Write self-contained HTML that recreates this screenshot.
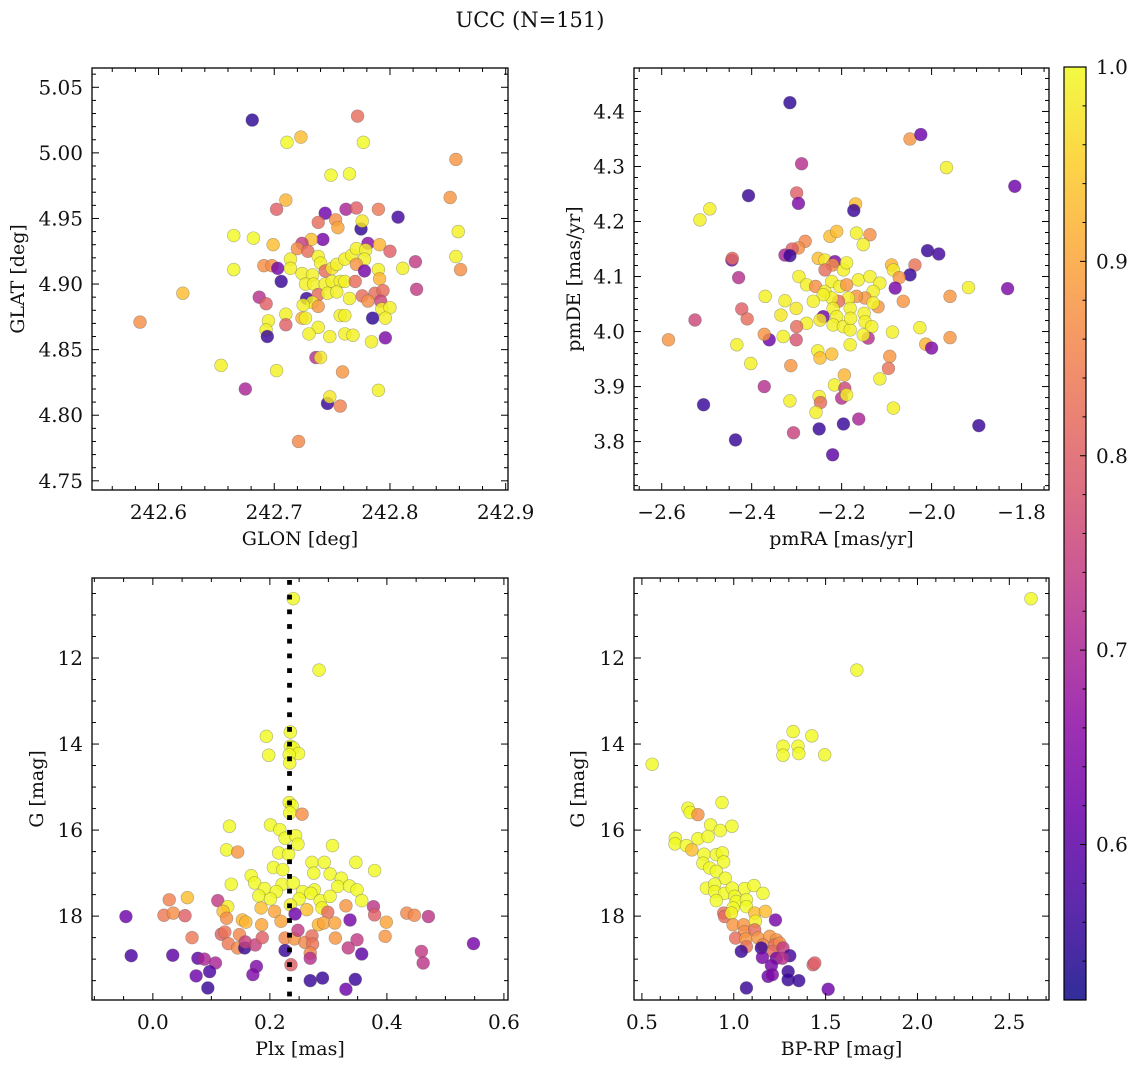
<!DOCTYPE html>
<html><head><meta charset="utf-8"><style>
html,body{margin:0;padding:0;background:#fff;}
svg{display:block;}
text{font-family:"DejaVu Serif","Liberation Serif",serif;fill:#111;}
</style></head><body>
<svg id="fig" width="1136" height="1067" viewBox="0 0 1136 1067" xmlns="http://www.w3.org/2000/svg">
<text x="530" y="27" font-size="21" text-anchor="middle">UCC (N=151)</text>
</svg>
<script>
// ---- Panel 1: GLON vs GLAT ----
const p1Glon=[242.681,242.772,242.711,242.723,242.777,242.857,242.749,242.765,242.852,242.710,242.702,242.744,242.762,242.771,242.790,242.807,242.738,242.753,242.755,242.775,242.776,242.665,242.682,242.699,242.742,242.732,242.724,242.720,242.729,242.781,242.791,242.800,242.822,242.859,242.857,242.861,242.665,242.691,242.698,242.703,242.706,242.714,242.714,242.724,242.733,242.738,242.740,242.744,242.750,242.754,242.761,242.767,242.771,242.779,242.778,242.771,242.778,242.790,242.791,242.811,242.823,242.687,242.693,242.728,242.727,242.734,242.738,242.744,242.750,242.757,242.761,242.770,242.746,242.754,242.765,242.776,242.787,242.794,242.792,242.781,242.793,242.800,242.733,242.738,242.725,242.724,242.727,242.710,242.695,242.693,242.694,242.710,242.738,242.730,242.748,242.757,242.761,242.761,242.768,242.785,242.796,242.784,242.796,242.736,242.740,242.654,242.702,242.759,242.675,242.790,242.746,242.748,242.757,242.721,242.584,242.621];
const p1Glat=[5.025,5.028,5.008,5.012,5.008,4.995,4.983,4.984,4.966,4.964,4.957,4.954,4.957,4.958,4.957,4.951,4.947,4.949,4.943,4.942,4.948,4.937,4.935,4.930,4.934,4.934,4.931,4.927,4.925,4.931,4.930,4.925,4.917,4.940,4.921,4.911,4.911,4.914,4.914,4.912,4.902,4.919,4.912,4.908,4.907,4.921,4.916,4.910,4.912,4.915,4.919,4.922,4.927,4.926,4.919,4.915,4.910,4.911,4.904,4.912,4.896,4.890,4.885,4.889,4.900,4.900,4.892,4.900,4.902,4.902,4.902,4.902,4.893,4.894,4.889,4.891,4.893,4.895,4.887,4.887,4.881,4.882,4.886,4.883,4.884,4.874,4.874,4.877,4.872,4.865,4.860,4.869,4.867,4.862,4.860,4.876,4.876,4.862,4.861,4.874,4.874,4.856,4.859,4.844,4.844,4.838,4.834,4.833,4.820,4.819,4.809,4.814,4.807,4.780,4.871,4.893];
const p1Prob=[.55,.82,1,.93,1,.88,1,1,.88,.92,.80,.62,.70,.80,.84,.57,.82,.87,.90,.55,.98,1,1,.93,.63,.93,.74,.87,.82,.66,.92,.80,.74,.99,.99,.87,1,.87,.87,.63,.56,.99,.99,.99,.99,.99,.99,.82,.98,.99,.99,.99,.99,.99,.99,.88,.63,.99,.92,.99,.74,.72,.80,.56,.99,.99,.82,.99,.99,.99,.99,.82,.99,.99,.99,.82,.82,.82,.76,.87,.99,.99,.99,.88,.99,.92,.99,.99,.99,.99,.56,.80,.99,.99,.99,.99,.99,.99,.99,.55,.99,.99,.64,.72,.98,.99,.99,.88,.70,.99,.56,.98,.85,.86,.87,.93];
const p1XTicks=[242.6,242.7,242.8,242.9];
const p1YTicks=[4.75,4.80,4.85,4.90,4.95,5.00,5.05];

// ---- Panel 2: pmRA vs pmDE ----
const p2PmRA=[-2.315,-2.048,-2.024,-2.289,-1.967,-1.815,-2.407,-2.300,-2.296,-2.169,-2.173,-2.515,-2.493,-2.226,-2.211,-2.167,-2.137,-2.152,-2.281,-2.296,-2.310,-2.326,-2.315,-2.444,-2.443,-2.429,-2.252,-2.237,-2.215,-2.220,-2.237,-2.196,-2.189,-2.009,-1.984,-2.037,-2.048,-2.089,-2.085,-2.072,-2.081,-1.918,-1.831,-1.959,-2.063,-2.295,-2.278,-2.258,-2.237,-2.222,-2.204,-2.189,-2.163,-2.137,-2.115,-2.130,-2.148,-2.119,-2.167,-2.185,-2.181,-2.207,-2.222,-2.241,-2.263,-2.219,-2.211,-2.241,-2.248,-2.219,-2.196,-2.181,-2.180,-2.150,-2.148,-2.133,-2.141,-2.152,-2.130,-2.370,-2.326,-2.301,-2.335,-2.278,-2.300,-2.301,-2.361,-2.372,-2.330,-2.422,-2.410,-2.526,-2.585,-2.433,-2.402,-2.313,-2.372,-2.507,-2.436,-2.315,-2.307,-2.253,-2.248,-2.222,-2.181,-2.087,-2.026,-2.013,-2.000,-1.959,-2.093,-2.096,-2.115,-2.194,-2.216,-2.193,-2.200,-2.189,-2.250,-2.247,-2.257,-2.085,-2.162,-2.250,-2.196,-2.220,-1.895];
const p2PmDE=[4.416,4.350,4.358,4.305,4.298,4.264,4.247,4.252,4.233,4.232,4.220,4.203,4.223,4.173,4.182,4.179,4.176,4.158,4.164,4.152,4.150,4.139,4.138,4.130,4.133,4.098,4.133,4.130,4.127,4.121,4.112,4.112,4.125,4.147,4.141,4.121,4.103,4.121,4.112,4.098,4.079,4.080,4.078,4.064,4.055,4.100,4.085,4.082,4.073,4.091,4.082,4.085,4.094,4.100,4.088,4.073,4.061,4.045,4.064,4.061,4.042,4.055,4.061,4.067,4.055,4.042,4.027,4.027,4.021,4.012,4.009,4.003,4.024,4.033,4.018,4.009,3.988,3.994,4.052,4.064,4.056,4.042,4.030,4.015,4.009,3.985,3.985,3.995,3.991,4.041,4.023,4.021,3.985,3.976,3.942,3.938,3.900,3.867,3.803,3.874,3.816,3.965,3.952,3.959,3.976,3.999,4.007,3.977,3.970,3.989,3.955,3.933,3.914,3.921,3.903,3.897,3.879,3.885,3.882,3.871,3.853,3.861,3.841,3.823,3.832,3.776,3.829];
const p2Prob=[.55,.88,.62,.72,.99,.62,.56,.80,.64,.93,.56,.99,.99,.93,.93,.99,.87,.99,.86,.87,.80,.70,.56,.62,.82,.72,.93,.98,.64,.87,.82,.99,.99,.56,.57,.83,.56,.92,.98,.88,.63,.99,.64,.88,.88,.99,.99,.87,.99,.99,.99,.88,.99,.99,.99,.99,.88,.88,.88,.99,.99,.82,.99,.99,.99,.99,.99,.62,.98,.99,.99,.99,.99,.99,.99,.99,.72,.99,.99,.99,.99,.98,.98,.99,.82,.78,.62,.88,.99,.80,.82,.76,.88,.99,.99,.88,.72,.56,.56,.99,.75,.99,.93,.93,.99,.99,.99,.92,.64,.88,.88,.83,.99,.92,.99,.76,.72,.99,.99,.82,.99,.99,.70,.56,.56,.60,.56];
const p2XTicks=[-2.6,-2.4,-2.2,-2.0,-1.8];
const p2YTicks=[3.8,3.9,4.0,4.1,4.2,4.3,4.4];

// ---- Panel 3: Plx vs G ----
const p3Plx=[0.240,0.284,0.235,0.194,0.198,0.235,0.240,0.249,0.233,0.234,0.233,0.238,0.234,0.255,0.131,0.201,0.217,0.226,0.244,0.248,0.126,0.145,0.307,0.215,0.232,0.272,0.293,0.347,0.379,0.206,0.222,0.275,0.303,0.168,0.134,0.174,0.221,0.240,0.322,0.316,0.336,0.349,0.191,0.211,0.256,0.276,0.270,0.181,0.201,0.250,0.286,0.303,0.357,0.059,0.028,0.111,0.128,0.120,0.185,0.208,0.235,0.263,0.289,0.299,0.330,0.377,-0.046,0.019,0.035,0.055,0.126,0.153,0.159,0.186,0.219,0.243,0.283,0.292,0.311,0.337,0.379,0.399,0.434,0.447,0.471,0.067,0.117,0.123,0.148,0.129,0.145,0.157,0.158,0.175,0.187,0.226,0.242,0.248,0.226,0.260,0.272,0.273,0.269,0.269,0.312,0.349,0.334,0.357,0.397,0.459,0.462,0.548,-0.037,0.034,0.077,0.088,0.107,0.074,0.097,0.094,0.177,0.171,0.236,0.269,0.290,0.330,0.346];
const p3G=[10.62,12.28,13.72,13.82,14.26,14.05,14.09,14.22,14.25,14.44,15.36,15.43,15.60,15.63,15.91,15.88,15.99,16.19,16.13,16.33,16.46,16.51,16.36,16.53,16.56,16.75,16.75,16.75,16.94,16.87,16.92,17.00,17.02,17.06,17.26,17.23,17.26,17.23,17.12,17.31,17.30,17.39,17.36,17.43,17.43,17.39,17.47,17.53,17.60,17.60,17.64,17.54,17.64,17.57,17.62,17.64,17.78,17.89,17.81,17.89,17.74,17.85,17.81,17.91,17.76,17.78,18.01,17.98,17.93,17.99,18.05,18.09,18.14,18.20,18.12,17.95,18.20,18.16,18.16,18.09,17.97,18.14,17.93,17.98,18.01,18.50,18.42,18.37,18.43,18.64,18.74,18.74,18.60,18.67,18.50,18.51,18.53,18.33,18.80,18.61,18.46,18.65,18.86,18.98,18.51,18.55,18.74,18.88,18.47,18.82,19.09,18.64,18.92,18.91,18.98,19.00,19.09,19.39,19.29,19.67,19.17,19.36,19.13,19.50,19.44,19.70,19.47];
const p3Prob=[1,1,1,1,1,1,1,1,1,1,1,1,1,.87,1,1,1,1,1,1,1,.88,1,1,1,1,1,1,1,1,1,1,1,1,1,1,1,1,1,1,1,1,1,1,1,1,1,1,1,1,1,1,1,.93,.85,.74,.99,.93,.93,.90,.99,.93,.99,.82,.88,.73,.62,.84,.87,.80,.87,.92,.92,.90,.90,.62,.92,.90,.90,.63,.80,.90,.86,.86,.73,.84,.80,.83,.86,.84,.86,.56,.75,.75,.80,.86,.88,.74,.56,.86,.82,.83,.86,.72,.88,.74,.74,.60,.88,.74,.73,.63,.58,.60,.60,.70,.70,.62,.58,.56,.64,.64,.80,.56,.56,.62,.56];
const p3XTicks=[0.0,0.2,0.4,0.6];
const p3YTicks=[12,14,16,18];
const p3PlxRef=[0.2336];

// ---- Panel 4: BP-RP vs G ----
const p4Color=[2.618,1.670,1.323,1.425,1.268,1.268,1.350,1.354,1.495,0.556,0.936,0.751,0.763,0.805,0.874,0.927,0.990,0.682,0.680,0.742,0.772,0.805,0.860,0.838,0.832,0.905,0.938,0.945,0.869,0.905,0.954,0.851,0.896,0.896,0.950,0.992,1.059,1.110,1.159,0.905,1.005,1.014,1.069,1.069,0.996,0.945,0.950,0.987,1.114,1.172,0.996,1.054,1.118,1.059,1.114,1.227,1.010,1.065,1.132,1.196,1.232,1.069,1.159,1.223,1.250,1.041,1.150,1.214,1.268,1.156,1.232,1.305,1.265,1.432,1.441,1.205,1.187,1.210,1.296,1.296,1.354,1.069,1.514];
const p4G=[10.62,12.28,13.71,13.81,14.05,14.26,14.05,14.22,14.25,14.47,15.36,15.49,15.59,15.64,15.88,16.01,15.91,16.19,16.32,16.36,16.46,16.20,16.15,16.56,16.77,16.57,16.53,16.74,16.88,16.96,17.12,17.35,17.26,17.43,17.47,17.35,17.36,17.29,17.47,17.64,17.54,17.66,17.62,17.78,17.81,17.93,18.01,17.93,17.93,17.89,18.20,18.20,18.12,18.36,18.32,18.09,18.51,18.53,18.51,18.47,18.55,18.71,18.67,18.67,18.63,18.82,18.74,18.82,18.74,18.96,18.98,18.92,18.98,19.13,19.09,19.15,19.40,19.36,19.29,19.48,19.50,19.67,19.70];
const p4Prob=[1,1,1,1,1,1,1,1,1,1,1,1,1,.87,1,1,1,1,1,1,.93,1,1,1,1,1,1,1,1,1,1,1,1,1,1,1,1,1,1,1,1,1,1,1,1,.82,.82,.99,.93,.93,.88,.88,.99,.87,.82,.63,.82,.88,.88,.88,.88,.83,.86,.82,.87,.56,.56,.82,.74,.63,.64,.57,.72,.80,.80,.63,.62,.64,.56,.56,.56,.56,.62];
const p4XTicks=[0.5,1.0,1.5,2.0,2.5];
const p4YTicks=[12,14,16,18];

// ---- Colorbar ----
const cbTicks=[0.6,0.7,0.8,0.9,1.0];
const cbMin=0.52, cbMax=1.0;

const NS="http://www.w3.org/2000/svg";
const svg=document.getElementById('fig');
function mk(tag,attrs,parent){const e=document.createElementNS(NS,tag);for(const k in attrs)e.setAttribute(k,attrs[k]);(parent||svg).appendChild(e);return e;}

const plasma=[[13,8,135],[65,4,157],[106,0,168],[143,13,164],[177,42,144],[204,71,120],[225,100,98],[242,132,75],[252,166,54],[252,206,37],[240,249,33]];
function cmap(v){let t=(v-cbMin)/(cbMax-cbMin);t=Math.max(0,Math.min(1,t));const f=t*10;const i=Math.min(9,Math.floor(f));const r=f-i;const a=plasma[i],b=plasma[i+1];return 'rgb('+[0,1,2].map(k=>Math.round(a[k]+(b[k]-a[k])*r)).join(',')+')';}
function fmtMinus(s){return s.replace('-','\u2212');}

function panel(cfg){
  const g=mk('g',{});
  
  
  const {x0,x1,y0,y1,xmin,xmax,ymin,ymax,invY}=cfg;
  const sx=v=>x0+(v-xmin)/(xmax-xmin)*(x1-x0);
  const sy=invY?(v=>y0+(v-ymin)/(ymax-ymin)*(y1-y0)):(v=>y1-(v-ymin)/(ymax-ymin)*(y1-y0));
  const pts=mk('g',{},g);
  
  
  const n=Math.min(cfg.xs.length,cfg.ys.length,cfg.cs.length);
  for(let i=0;i<n;i++){
    const c=mk('circle',{cx:sx(cfg.xs[i]),cy:sy(cfg.ys[i]),r:6.4,fill:cmap(cfg.cs[i]),'fill-opacity':0.82,stroke:'#555','stroke-opacity':0.45,'stroke-width':0.6},pts);
    
    
  }
  if(cfg.vline){
    for(const v of cfg.vline){
      const lg=mk('g',{fill:'#000'},g);
      
      
      const X=sx(v);
      for(let y=y0+2;y<y1-2;y+=14.7){
        mk('rect',{x:X-2.4,y:y,width:4.8,height:4.8},lg);
      }
    }
  }
  const tg=mk('g',{stroke:'#000','stroke-width':1},g);
  
  
  const eps=1e-9;
  for(let k=Math.ceil((xmin)/cfg.xminor-eps);k*cfg.xminor<=xmax+eps;k++){
    const v=k*cfg.xminor;const X=sx(v);
    const major=cfg.xticks.some(t=>Math.abs(t-v)<cfg.xminor/4);
    const L=major?7:4;
    mk('line',{x1:X,x2:X,y1:y1,y2:y1-L},tg);mk('line',{x1:X,x2:X,y1:y0,y2:y0+L},tg);
  }
  for(let k=Math.ceil((ymin)/cfg.yminor-eps);k*cfg.yminor<=ymax+eps;k++){
    const v=k*cfg.yminor;const Y=sy(v);
    const major=cfg.yticks.some(t=>Math.abs(t-v)<cfg.yminor/4);
    const L=major?7:4;
    mk('line',{x1:x0,x2:x0+L,y1:Y,y2:Y},tg);mk('line',{x1:x1,x2:x1-L,y1:Y,y2:Y},tg);
  }
  mk('rect',{x:x0,y:y0,width:x1-x0,height:y1-y0,fill:'none',stroke:'#000','stroke-width':1.3},g);
  for(const t of cfg.xticks){
    const tx=mk('text',{x:sx(t),y:y1+29,'font-size':20,'text-anchor':'middle'},g);
    tx.textContent=fmtMinus(t.toFixed(cfg.xdec));
    
    
  }
  for(const t of cfg.yticks){
    const ty=mk('text',{x:x0-9,y:sy(t)+7,'font-size':20,'text-anchor':'end'},g);
    ty.textContent=fmtMinus(t.toFixed(cfg.ydec));
    
    
  }
  const xl=mk('text',{x:(x0+x1)/2,y:y1+55,'font-size':19,'text-anchor':'middle'},g);
  xl.textContent=cfg.xlabel;
  
  
  const yl=mk('text',{x:cfg.ylx,y:(y0+y1)/2,'font-size':19,'text-anchor':'middle',transform:'rotate(-90 '+cfg.ylx+' '+((y0+y1)/2)+')'},g);
  yl.textContent=cfg.ylabel;
  
  
}

panel({name:'glon-glat-panel',x0:92,x1:508,y0:68,y1:490,xmin:242.5425,xmax:242.902,ymin:4.743,ymax:5.0647,xs:p1Glon,ys:p1Glat,cs:p1Prob,xticks:p1XTicks,yticks:p1YTicks,xminor:0.02,yminor:0.01,xdec:1,ydec:2,xlabel:'GLON [deg]',ylabel:'GLAT [deg]',ylx:24});
panel({name:'pm-panel',x0:634,x1:1049,y0:68,y1:490,xmin:-2.6616,xmax:-1.739,ymin:3.712,ymax:4.479,xs:p2PmRA,ys:p2PmDE,cs:p2Prob,xticks:p2XTicks,yticks:p2YTicks,xminor:0.05,yminor:0.02,xdec:1,ydec:1,xlabel:'pmRA [mas/yr]',ylabel:'pmDE [mas/yr]',ylx:580});
panel({name:'plx-g-panel',x0:92,x1:508,y0:578,y1:1000,xmin:-0.104,xmax:0.607,ymin:10.14,ymax:19.95,invY:true,xs:p3Plx,ys:p3G,cs:p3Prob,xticks:p3XTicks,yticks:p3YTicks,xminor:0.05,yminor:0.5,xdec:1,ydec:0,xlabel:'Plx [mas]',ylabel:'G [mag]',ylx:43,vline:p3PlxRef});
panel({name:'cmd-panel',x0:634,x1:1049,y0:578,y1:1000,xmin:0.457,xmax:2.716,ymin:10.14,ymax:19.95,invY:true,xs:p4Color,ys:p4G,cs:p4Prob,xticks:p4XTicks,yticks:p4YTicks,xminor:0.1,yminor:0.5,xdec:1,ydec:0,xlabel:'BP-RP [mag]',ylabel:'G [mag]',ylx:584});

(function(){
  const cx0=1064,cx1=1086,cy0=67,cy1=1000;
  const g=mk('g',{});
  
  
  const defs=mk('defs',{},g);
  const lg=mk('linearGradient',{id:'cbg',x1:0,y1:1,x2:0,y2:0},defs);
  for(let i=0;i<=20;i++){const v=cbMin+(cbMax-cbMin)*i/20;mk('stop',{offset:(i/20),'stop-color':cmap(v),'stop-opacity':0.85},lg);}
  mk('rect',{x:cx0,y:cy0,width:cx1-cx0,height:cy1-cy0,fill:'url(#cbg)',stroke:'#000','stroke-width':1.2},g);
  const sy=v=>cy1-(v-cbMin)/(cbMax-cbMin)*(cy1-cy0);
  for(let k=Math.ceil(cbMin/0.02);k*0.02<=cbMax+1e-9;k++){
    const v=k*0.02;const Y=sy(v);const major=cbTicks.some(t=>Math.abs(t-v)<0.005);
    mk('line',{x1:cx1,x2:cx1-(major?6:3.5),y1:Y,y2:Y,stroke:'#000','stroke-width':1},g);
  }
  for(const t of cbTicks){
    const tx=mk('text',{x:cx1+10,y:sy(t)+7,'font-size':20},g);
    tx.textContent=t.toFixed(1);
    
    
  }
})();
</script>
</body></html>
